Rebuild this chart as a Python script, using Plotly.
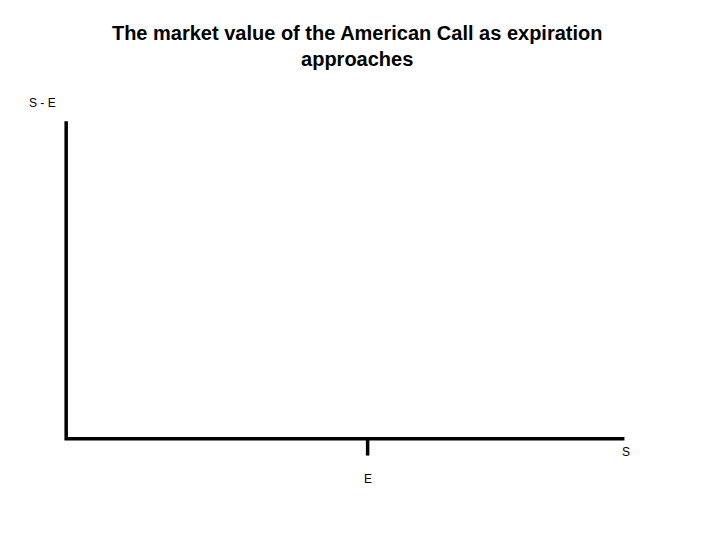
import plotly.graph_objects as go

# schematic values (arbitrary units)
s_axis = [0, 100]        # stock price axis
v_axis = [0, 100]        # call value axis
strike = 54              # E on the S axis
tick_len = 5.3

title = 'The market value of the American Call as expiration<br>approaches'
y_label = 'S - E'
x_label = 'S'
strike_label = 'E'

font = 'Liberation Sans, Arial, sans-serif'
x_range = [-2, 101]
y_range = [-9.85, 102]


def to_paper(x, y):
    # annotations outside the axis range get hidden, so place them in paper units
    px_ = (x - x_range[0]) / (x_range[1] - x_range[0])
    py_ = (y - y_range[0]) / (y_range[1] - y_range[0])
    return px_, py_


fig = go.Figure()

# axes drawn as thick black lines
fig.add_trace(go.Scatter(
    x=[s_axis[0], s_axis[0], s_axis[1]],
    y=[v_axis[1], v_axis[0], v_axis[0]],
    mode='lines', line=dict(color='black', width=3.5),
    hoverinfo='skip'))

# tick at the strike
fig.add_trace(go.Scatter(
    x=[strike, strike], y=[v_axis[0], -tick_len],
    mode='lines', line=dict(color='black', width=3.5),
    hoverinfo='skip'))

lbl_font = dict(size=12, color='black')
for text, (lx, ly) in [(y_label, (-4.3, 105.8)),
                       (x_label, (100.3, -4.3)),
                       (strike_label, (strike, -12.7))]:
    ax_, ay_ = to_paper(lx, ly)
    fig.add_annotation(x=ax_, y=ay_, text=text, showarrow=False,
                       xref='paper', yref='paper', xanchor='center',
                       yanchor='middle', font=lbl_font)

fig.update_layout(
    width=720, height=540,
    showlegend=False,
    plot_bgcolor='white', paper_bgcolor='white',
    font=dict(family=font, color='black'),
    margin=dict(l=47, r=98, t=107, b=78),
    title=dict(text='<b>' + title + '</b>', x=0.485, xref='container',
               xanchor='center', y=0.941, yref='container', yanchor='middle',
               font=dict(size=20, color='black')),
)
axis_style = dict(showgrid=False, zeroline=False, showline=False,
                  showticklabels=False, ticks='')
fig.update_xaxes(range=x_range, **axis_style)
fig.update_yaxes(range=y_range, **axis_style)

fig.write_html('out.html')
